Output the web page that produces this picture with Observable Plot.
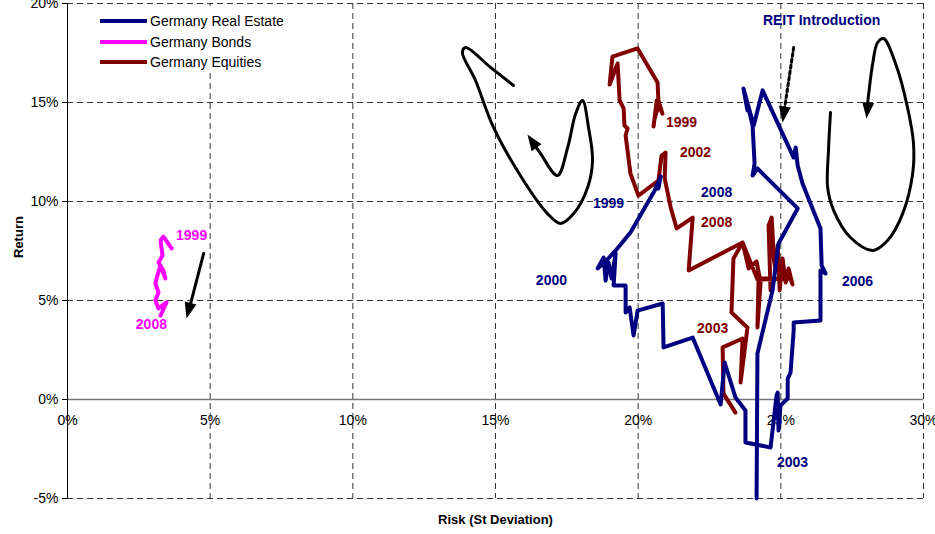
<!DOCTYPE html>
<html><head><meta charset="utf-8">
<script src="https://cdn.jsdelivr.net/npm/d3@7"></script>
<script src="https://cdn.jsdelivr.net/npm/@observablehq/plot@0.6"></script>
<style>
body{margin:0;background:#fff;font-family:"Liberation Sans",Arial,sans-serif;}
#wrap{position:relative;width:935px;height:534px;}
#legend{position:absolute;left:95px;top:6px;padding:5px 10px 0 5px;background:#fff;font-size:14px;color:#000;}
#legend .row{display:flex;align-items:center;height:20.5px;}
#legend .sw{width:47px;height:4px;margin-right:3px;}
</style></head><body>
<div id="wrap"><div id="legend"></div></div>
<script>
// ---- data (risk %, return %) ----
const seriesNames = ["Germany Real Estate", "Germany Bonds", "Germany Equities"];
const xTicks = [0, 5, 10, 15, 20, 25, 30];
const yTicks = [-5, 0, 5, 10, 15, 20];

const realEstate = [
  [20.71,10.66],[20.79,11.26],[20.58,10.56],[19.73,8.43],[19.21,7.53],[18.89,7.02],[18.58,6.62],
  [18.79,7.17],[18.86,6.01],[18.96,6.92],[19.07,6.11],[19.21,7.37],[19.14,5.76],[19.56,5.76],
  [19.56,4.39],[19.70,4.65],[19.84,3.23],[19.98,4.49],[20.86,4.85],[20.89,2.63],[21.91,3.13],
  [22.89,-0.25],[23.03,1.87],[23.41,0.10],[23.76,-0.56],[23.76,-2.17],[24.64,-2.42],[24.85,0.20],
  [24.89,0.35],[24.92,-1.57],[24.99,-0.30],[25.24,0.05],[25.24,1.06],[25.34,1.36],[25.45,3.48],
  [25.45,3.89],[26.39,3.99],[26.39,6.52],[26.57,6.36],[26.43,6.77],[26.39,8.64],[25.76,10.91],
  [25.59,11.82],[25.52,12.73],[25.45,12.22],[24.36,15.61],[24.05,13.84],[23.69,15.71],[23.83,14.60],
  [23.76,15.35],[24.01,13.84],[24.08,11.92],[24.01,11.31],[24.18,11.67],[25.59,9.65],[24.92,7.88],
  [24.71,5.51],[24.18,2.32],[24.15,-5.0]
];

const bonds = [
  [3.65,7.63],[3.36,8.23],[3.26,8.03],[3.33,7.27],[3.19,6.92],[3.36,6.52],[3.43,6.11],[3.26,6.77],
  [3.15,6.26],[3.08,5.86],[3.19,5.40],[3.08,5.00],[3.19,4.60],[3.47,4.90],[3.26,4.24]
];

const equities = [
  [20.54,13.79],[20.65,15.10],[20.58,14.19],[20.71,14.85],[20.85,14.44],[20.71,15.10],[20.68,16.01],
  [19.98,17.73],[19.10,17.32],[19.00,15.91],[19.28,16.97],[19.35,15.10],[19.49,14.70],[19.52,13.84],
  [19.63,13.69],[19.56,13.33],[19.73,11.41],[20.01,10.30],[20.71,11.06],[20.82,12.32],[20.96,12.47],
  [20.93,11.16],[21.14,9.70],[21.35,8.64],[21.91,9.19],[21.77,6.52],[23.66,7.93],
  [23.87,6.62],[24.15,6.97],[24.29,5.91],[24.18,3.64],[24.22,6.11],[24.68,6.11],[24.64,5.51],
  [24.57,8.79],[24.68,9.19],[24.75,7.27],[24.64,8.03],[24.82,6.52],[24.89,7.78],[24.96,5.51],
  [25.06,7.12],[25.17,5.91],[25.27,6.62],[25.41,5.81],[25.34,6.11],[24.18,6.06],[23.66,7.93],
  [23.34,7.12],[23.27,4.39],[23.83,3.64],[23.59,0.86],[23.66,3.08],[22.96,2.63],[22.99,0.30],[23.41,-0.66]
];

// year labels: [text, risk, return]
const realEstateLabels = [["1999",18.96,9.90],["2000",16.96,6.01],["2008",22.75,10.45],["2006",27.69,5.96],["2003",25.41,-3.18],["REIT Introduction",26.43,19.14]];
const bondLabels = [["1999",4.35,8.28],["2008",2.94,3.79]];
const equityLabels = [["1999",21.52,13.99],["2002",22.01,12.47],["2008",22.75,8.94],["2003",22.61,3.59]];

// hand-drawn annotation curves (risk %, return %)
const loopLeft = [
  [15.63,15.86],[14.83,16.77],[13.95,17.78],[13.84,17.53],[14.30,16.11],[14.93,13.74],[15.98,11.06],
  [16.82,9.39],[17.28,8.89],[17.74,9.39],[18.23,10.71],[18.40,12.07],[18.26,13.74],[18.05,15.10],
  [17.81,14.44],[17.53,12.73],[17.17,11.31],[16.58,12.42],[16.40,12.78]
];
const loopRight = [
  [26.74,14.49],[26.67,12.58],[26.64,10.71],[26.85,9.55],[27.44,8.18],[28.22,7.53],[28.74,8.03],
  [29.27,9.39],[29.62,11.41],[29.65,12.93],[29.44,14.75],[29.02,16.97],[28.60,18.23],[28.39,18.03],
  [28.22,16.97],[28.08,15.45],[28.04,14.95]
];
const reitArrow = [[25.45,17.78],[25.13,14.70]];
const bondArrow = [[4.77,7.37],[4.28,4.65]];
// arrow heads: [fromRisk, fromReturn, tipRisk, tipReturn]
const arrowHeads = [
  [16.58,12.42,16.12,13.38],
  [28.15,16.11,28.00,14.19],
  [25.45,17.78,25.06,13.99],
  [4.77,7.37,4.17,4.09]
];

// ---- chart ----
const W = 935, H = 534, ML = 67, MR = 12, MT = 3, MB = 36;
const xDomain = [0, 30], yDomain = [-5, 20];
const sx = Plot.scale({x: {domain: xDomain, range: [ML, W - MR]}});
const sy = Plot.scale({y: {domain: yDomain, range: [H - MB, MT]}});
const pts = a => a.map(([x, y]) => ({x, y}));
const lbls = a => a.map(([t, x, y]) => ({t, x, y}));
const heads = arrowHeads.map(([x0, y0, x1, y1]) => {
  const dx = sx.apply(x1) - sx.apply(x0), dy = sy.apply(y1) - sy.apply(y0);
  return {x: x1, y: y1, a: Math.atan2(dx, -dy) * 180 / Math.PI};
});
const colors = {re: "#000080", bo: "#FF00FF", eq: "#800000"};
const lineOpts = c => ({x: "x", y: "y", stroke: c, strokeWidth: 4, strokeLinejoin: "round", strokeLinecap: "round"});
const lblOpts = c => ({x: "x", y: "y", text: "t", fill: c, fontWeight: "bold", fontSize: 14});

const chart = Plot.plot({
  width: W, height: H, marginLeft: ML, marginRight: MR, marginTop: MT, marginBottom: MB,
  x: {domain: xDomain, axis: null},
  y: {domain: yDomain, axis: null},
  style: {fontFamily: "'Liberation Sans', Arial, sans-serif", fontSize: "14px", background: "white", overflow: "visible"},
  marks: [
    Plot.ruleY(yTicks.filter(d => d !== 0), {stroke: "#333", strokeDasharray: "6,4"}),
    Plot.ruleX(xTicks.filter(d => d !== 0), {stroke: "#333", strokeDasharray: "6,4"}),
    Plot.ruleY([0], {stroke: "#777", strokeWidth: 1.5}),
    Plot.ruleX([0], {stroke: "#000"}),
    Plot.axisY(yTicks, {tickSize: 5, tickPadding: 4, tickFormat: d => d + "%", fontSize: 14, label: null}),
    Plot.text(xTicks, {x: d => d, y: () => 0, dy: 21, text: d => d + "%", fontSize: 14}),
    Plot.text(["Risk (St Deviation)"], {frameAnchor: "bottom", dy: 25, fontWeight: "bold", fontSize: 13}),
    Plot.text(["Return"], {frameAnchor: "left", dx: -49, dy: 7, rotate: -90, fontWeight: "bold", fontSize: 13}),
    // annotations
    Plot.line(pts(loopLeft), {x: "x", y: "y", curve: "catmull-rom", stroke: "black", strokeWidth: 3}),
    Plot.line(pts(loopRight), {x: "x", y: "y", curve: "catmull-rom", stroke: "black", strokeWidth: 3}),
    Plot.line(pts(reitArrow), {x: "x", y: "y", stroke: "black", strokeWidth: 3, strokeDasharray: "3,3"}),
    Plot.line(pts(bondArrow), {x: "x", y: "y", stroke: "black", strokeWidth: 3}),
    Plot.vector(heads, {x: "x", y: "y", rotate: "a", length: 16, r: 6, shape: "spike", anchor: "end", fill: "black", stroke: "none"}),
    // series
    Plot.line(pts(equities), lineOpts(colors.eq)),
    Plot.line(pts(bonds), lineOpts(colors.bo)),
    Plot.line(pts(realEstate), lineOpts(colors.re)),
    // labels
    Plot.text(lbls(realEstateLabels), lblOpts(colors.re)),
    Plot.text(lbls(bondLabels), lblOpts(colors.bo)),
    Plot.text(lbls(equityLabels), lblOpts(colors.eq))
  ]
});
const wrap = document.getElementById("wrap");
wrap.insertBefore(chart, wrap.firstChild);

const legend = document.getElementById("legend");
[["re", 0], ["bo", 1], ["eq", 2]].forEach(([k, i]) => {
  const row = document.createElement("div");
  row.className = "row";
  row.innerHTML = `<span class="sw" style="background:${colors[k]}"></span><span>${seriesNames[i]}</span>`;
  legend.appendChild(row);
});
</script>
</body></html>
